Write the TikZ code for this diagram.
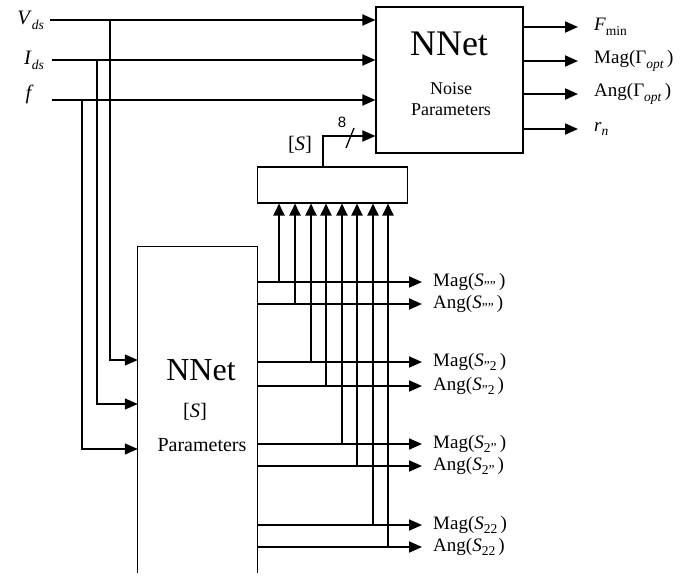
\documentclass[tikz,border=0pt]{standalone}
\usepackage{fontspec}
\setmainfont{Liberation Serif}
\setsansfont{Liberation Sans}
\usetikzlibrary{arrows.meta, positioning, calc}
\newcommand{\lowsub}[1]{\raisebox{-0.55ex}{\fontsize{13.5}{13.5}\selectfont #1}}

\begin{document}
\begin{tikzpicture}[
  x=1pt, y=-1pt,
  every node/.style={font=\fontsize{19}{21}\selectfont, inner sep=0pt},
  biglabel/.style={font=\fontsize{20.5}{23}\selectfont},
  blockbox/.style={draw, line width=1.1pt, inner sep=0pt},
  sig/.style={line width=1.8pt, -{Triangle[length=13pt,width=11pt]}},
  tap/.style={line width=1.3pt, -{Triangle[length=13pt,width=11pt]}},
  bus/.style={line width=2pt, -{Triangle[length=12pt,width=11pt]}}
]
  \useasboundingbox (0,0) rectangle (700,575);

  % noise parameter network
  \node[blockbox, minimum width=147pt, minimum height=146pt] (nnoise) at (449.5,80) {};
  \node[font=\fontsize{36}{36}\selectfont] (noisetitle) at (449,44) {NNet};
  \node[font=\fontsize{18}{21}\selectfont, align=center] (noisetext) at (451,99) {Noise\\Parameters};

  % bias and frequency inputs
  \coordinate (vin) at (50,20);
  \coordinate (iin) at (52,60);
  \coordinate (fin) at (52,100);
  \node[biglabel, left=6pt of vin] (vlab) {\textit{V}\lowsub{\textit{ds}}};
  \node[biglabel, left=8pt of iin] (ilab) {\textit{I}\lowsub{\textit{ds}}};
  \node[biglabel, left=18pt of fin, yshift=6pt] (flab) {\textit{f}};
  \draw[sig] (vin) -- (vin -| nnoise.west);
  \draw[sig] (iin) -- (iin -| nnoise.west);
  \draw[sig] (fin) -- (fin -| nnoise.west);

  % noise outputs
  \foreach \y/\txt [count=\i] in {27/{\textit{F}\lowsub{min}},
      61/{Mag(Γ\lowsub{\textit{opt}}\,)},
      94/{Ang(Γ\lowsub{\textit{opt}}\,)},
      129/{\textit{r}\lowsub{\textit{n}}}} {
    \coordinate (nout\i) at (578,\y);
    \draw[sig] (nnoise.east |- nout\i) -- (nout\i);
    \node[right=16pt of nout\i] (noutlab\i) {\txt};
  }

  % S-parameter network (open at the bottom)
  \node[minimum width=119pt, minimum height=326pt] (snet) at (197.5,410) {};
  \draw[line width=1.1pt] (snet.south west) -- (snet.north west) -- (snet.north east) -- (snet.south east);
  \node[font=\fontsize{32}{32}\selectfont] (stitle) at (201,370) {NNet};
  \node[biglabel] (smid) at (195,412) {[\textit{S}]};
  \node[font=\fontsize{20}{22}\selectfont] (sparams) at (202,445) {Parameters};

  % taps into the S-parameter network
  \coordinate (vtap) at (110,20);
  \coordinate (itap) at (97,60);
  \coordinate (ftap) at (82,100);
  \draw[tap] (vtap) |- (snet.west |- 0,360);
  \draw[tap] (itap) |- (snet.west |- 0,404);
  \draw[tap] (ftap) |- (snet.west |- 0,449);

  % collector of the S outputs
  \node[blockbox, minimum width=150pt, minimum height=36pt] (mux) at (332.5,185) {};

  \foreach \x/\y/\txt [count=\i from 0] in {279/282/{Mag(\textit{S}\lowsub{""}\,)},
      295/304/{Ang(\textit{S}\lowsub{""}\,)},
      311/362/{Mag(\textit{S}\lowsub{"2}\,)},
      326/386/{Ang(\textit{S}\lowsub{"2}\,)},
      342/444/{Mag(\textit{S}\lowsub{2"}\,)},
      357/466/{Ang(\textit{S}\lowsub{2"}\,)},
      373/525/{Mag(\textit{S}\lowsub{22}\,)},
      388/547/{Ang(\textit{S}\lowsub{22}\,)}} {
    \coordinate (sout\i) at (422,\y);
    \coordinate (stap\i) at (\x,\y);
    \draw[sig] (snet.east |- sout\i) -- (sout\i);
    \draw[bus] (stap\i) -- (stap\i |- mux.south);
    \node[right=11pt of sout\i] (soutlab\i) {\txt};
  }

  % S bus into the noise network
  \coordinate (sbus) at (323,136);
  \draw[sig] (mux.north -| sbus) -- (sbus) -- (nnoise.west |- sbus);
  \coordinate (slashmid) at (350,138);
  \draw[line width=1.3pt] (slashmid) ++(-4,10) -- ++(8,-20);
  \node[font=\sffamily\fontsize{15}{15}\selectfont] (buswidth) at (342,122) {8};
  \node[biglabel] (slab) at (300,145) {[\textit{S}]};

\end{tikzpicture}
\end{document}
